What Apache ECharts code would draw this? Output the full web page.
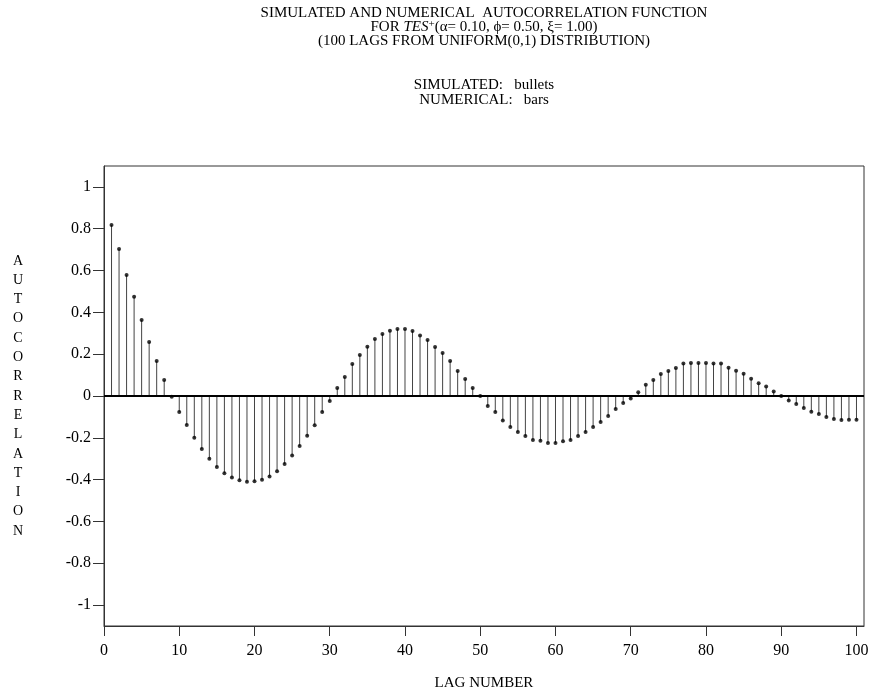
<!DOCTYPE html>
<html>
<head>
<meta charset="utf-8">
<script src="https://cdn.jsdelivr.net/npm/echarts@6/dist/echarts.min.js"></script>
<style>
html, body { margin: 0; padding: 0; background: #fff; }
#chart { width: 870px; height: 691px; }
</style>
</head>
<body>
<div id="chart"></div>
<script>
// lag numbers 1..100
const lags = [
    1, 2, 3, 4, 5, 6, 7, 8, 9, 10, 11, 12, 13, 14, 15, 16, 17, 18, 19, 20,
    21, 22, 23, 24, 25, 26, 27, 28, 29, 30, 31, 32, 33, 34, 35, 36, 37, 38, 39, 40,
    41, 42, 43, 44, 45, 46, 47, 48, 49, 50, 51, 52, 53, 54, 55, 56, 57, 58, 59, 60,
    61, 62, 63, 64, 65, 66, 67, 68, 69, 70, 71, 72, 73, 74, 75, 76, 77, 78, 79, 80,
    81, 82, 83, 84, 85, 86, 87, 88, 89, 90, 91, 92, 93, 94, 95, 96, 97, 98, 99, 100
];

// numerical autocorrelation (bars)
const numerical = [
    0.818, 0.703, 0.579, 0.475, 0.364, 0.258, 0.167, 0.077, -0.003, -0.077,
    -0.139, -0.200, -0.254, -0.300, -0.340, -0.370, -0.390, -0.403, -0.410, -0.408,
    -0.400, -0.385, -0.360, -0.325, -0.285, -0.239, -0.190, -0.140, -0.077, -0.024,
    0.038, 0.091, 0.153, 0.196, 0.236, 0.273, 0.297, 0.312, 0.320, 0.320,
    0.311, 0.289, 0.268, 0.234, 0.206, 0.167, 0.120, 0.081, 0.038, 0.000,
    -0.048, -0.077, -0.117, -0.148, -0.172, -0.191, -0.210, -0.214, -0.225, -0.225,
    -0.216, -0.210, -0.191, -0.172, -0.148, -0.124, -0.096, -0.062, -0.034, -0.012,
    0.018, 0.054, 0.076, 0.105, 0.120, 0.134, 0.155, 0.158, 0.158, 0.158,
    0.155, 0.155, 0.135, 0.121, 0.107, 0.083, 0.061, 0.045, 0.021, 0.000,
    -0.022, -0.038, -0.057, -0.075, -0.086, -0.100, -0.110, -0.115, -0.113, -0.113
];

// simulated autocorrelation (bullets)
const simulated = [
    0.818, 0.703, 0.579, 0.475, 0.364, 0.258, 0.167, 0.077, -0.003, -0.077,
    -0.139, -0.200, -0.254, -0.300, -0.340, -0.370, -0.390, -0.403, -0.410, -0.408,
    -0.400, -0.385, -0.360, -0.325, -0.285, -0.239, -0.190, -0.140, -0.077, -0.024,
    0.038, 0.091, 0.153, 0.196, 0.236, 0.273, 0.297, 0.312, 0.320, 0.320,
    0.311, 0.289, 0.268, 0.234, 0.206, 0.167, 0.120, 0.081, 0.038, 0.000,
    -0.048, -0.077, -0.117, -0.148, -0.172, -0.191, -0.210, -0.214, -0.225, -0.225,
    -0.216, -0.210, -0.191, -0.172, -0.148, -0.124, -0.096, -0.062, -0.034, -0.012,
    0.018, 0.054, 0.076, 0.105, 0.120, 0.134, 0.155, 0.158, 0.158, 0.158,
    0.155, 0.155, 0.135, 0.121, 0.107, 0.083, 0.061, 0.045, 0.021, 0.000,
    -0.022, -0.038, -0.057, -0.075, -0.086, -0.100, -0.110, -0.115, -0.113, -0.113
];

const xTicks = [0, 10, 20, 30, 40, 50, 60, 70, 80, 90, 100];
const yTicks = [-1, -0.8, -0.6, -0.4, -0.2, 0, 0.2, 0.4, 0.6, 0.8, 1];

const titleLines = [
    'SIMULATED AND NUMERICAL  AUTOCORRELATION FUNCTION',
    '{n|FOR }{i|TES}{s|+}{n|(α= 0.10, ϕ= 0.50, ξ= 1.00)}',
    '(100 LAGS FROM UNIFORM(0,1) DISTRIBUTION)'
];
const legendLines = ['SIMULATED:   bullets', 'NUMERICAL:   bars'];

const FONT = 'Liberation Serif';

const chart = echarts.init(document.getElementById('chart'));

const textStyle = { fontFamily: FONT, fontSize: 15, fill: '#000', align: 'center', verticalAlign: 'middle' };

// title block and the bullets/bars note, centred over the plot
const graphics = [];
titleLines.forEach((t, i) => {
    graphics.push({
        type: 'text', x: 484, y: 13 + i * 14,
        style: Object.assign({}, textStyle, {
            text: t,
            rich: {
                n: { fontFamily: FONT, fontSize: 15, lineHeight: 17 },
                i: { fontFamily: FONT, fontSize: 15, fontStyle: 'italic', lineHeight: 17 },
                s: { fontFamily: FONT, fontSize: 11, verticalAlign: 'top', lineHeight: 10 }
            }
        })
    });
});
legendLines.forEach((t, i) => {
    graphics.push({
        type: 'text', x: 484, y: 85 + i * 15,
        style: Object.assign({}, textStyle, { text: t })
    });
});

const option = {
    animation: false,
    backgroundColor: '#fff',
    grid: {
        left: 104, right: 6, top: 166, bottom: 65,
        show: true, borderColor: '#333', borderWidth: 1,
        outerBoundsMode: 'none'
    },
    graphic: graphics,
    xAxis: {
        type: 'value',
        min: 0, max: 101,
        name: 'LAG NUMBER',
        nameLocation: 'middle',
        nameGap: 50,
        nameTextStyle: { fontFamily: FONT, fontSize: 15, color: '#000' },
        axisLine: { show: true, onZero: false, lineStyle: { color: '#333' } },
        axisTick: { show: true, length: 10, customValues: xTicks, lineStyle: { color: '#333' } },
        axisLabel: { customValues: xTicks, margin: 17, fontFamily: FONT, fontSize: 16, color: '#000' },
        splitLine: { show: false }
    },
    yAxis: {
        type: 'value',
        min: -1.1, max: 1.1,
        name: 'AUTOCORRELATION'.split('').join('\n'),
        nameLocation: 'middle',
        nameRotate: 0,
        nameGap: 86,
        nameTextStyle: { fontFamily: FONT, fontSize: 14, color: '#000', align: 'center', lineHeight: 19.3 },
        axisLine: { show: true, lineStyle: { color: '#333' } },
        axisTick: { show: true, length: 11, customValues: yTicks, lineStyle: { color: '#333' } },
        axisLabel: { customValues: yTicks, margin: 13, fontFamily: FONT, fontSize: 16, color: '#000' },
        splitLine: { show: false }
    },
    series: [
        {
            name: 'NUMERICAL',
            type: 'bar',
            barWidth: 1,
            itemStyle: { color: '#444' },
            data: lags.map((l, i) => [l, numerical[i]]),
            markLine: {
                silent: true,
                symbol: ['none', 'none'],
                label: { show: false },
                lineStyle: { color: '#000', width: 2, type: 'solid' },
                data: [{ yAxis: 0 }]
            }
        },
        {
            name: 'SIMULATED',
            type: 'scatter',
            symbol: 'circle',
            symbolSize: 4,
            itemStyle: { color: '#000' },
            data: lags.map((l, i) => [l, simulated[i]]),
            z: 5
        }
    ]
};

chart.setOption(option);
</script>
</body>
</html>
